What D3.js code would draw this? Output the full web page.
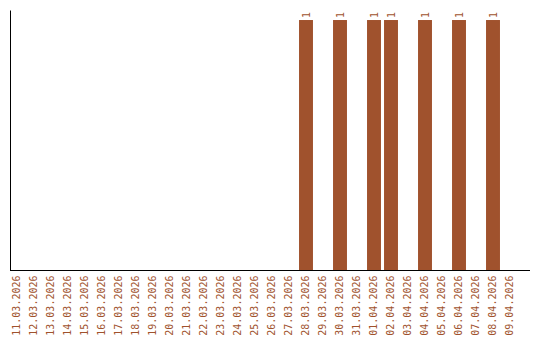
<!DOCTYPE html>
<html>
  <head>
    <script src="https://d3js.org/d3.v7.min.js"></script>
    <style>
      body { margin: 0; background: #fff; }
      .tick text, .value-label { font-family: "DejaVu Sans Mono", monospace; font-size: 10px; fill: #a0522d; }
    </style>
  </head>
  <body>
    <svg id="chart" width="540" height="340"></svg>
    <script>
      // Dates shown on the x axis
      var dates = ["11.03.2026", "12.03.2026", "13.03.2026", "14.03.2026", "15.03.2026",
        "16.03.2026", "17.03.2026", "18.03.2026", "19.03.2026", "20.03.2026",
        "21.03.2026", "22.03.2026", "23.03.2026", "24.03.2026", "25.03.2026",
        "26.03.2026", "27.03.2026", "28.03.2026", "29.03.2026", "30.03.2026",
        "31.03.2026", "01.04.2026", "02.04.2026", "03.04.2026", "04.04.2026",
        "05.04.2026", "06.04.2026", "07.04.2026", "08.04.2026", "09.04.2026"];
      // Count per date
      var counts = [0, 0, 0, 0, 0, 0, 0, 0, 0, 0,
        0, 0, 0, 0, 0, 0, 0, 1, 0, 1,
        0, 1, 1, 0, 1, 0, 1, 0, 1, 0];

      var data = dates.map(function(d, i) { return { date: d, count: counts[i] }; });

      var svg = d3.select("#chart");
      // plot edges (named so they don't clash with window.top)
      var plotLeft = 10, plotRight = 530, plotTop = 10, plotBottom = 270.5;

      var x = d3.scaleBand()
        .domain(dates)
        .range([8.5, 518.5])
        .paddingInner(0.18)
        .paddingOuter(0.09);

      var y = d3.scaleLinear()
        .domain([0, 1.04])
        .range([plotBottom, plotTop]);

      // Bars
      svg.selectAll("rect.bar")
        .data(data.filter(function(d) { return d.count > 0; }))
        .enter()
        .append("rect")
        .attr("class", "bar")
        .attr("x", function(d) { return x(d.date); })
        .attr("y", function(d) { return y(d.count); })
        .attr("width", x.bandwidth())
        .attr("height", function(d) { return y(0) - y(d.count); })
        .attr("fill", "#a0522d");

      // Value labels, rotated above each bar
      svg.selectAll("text.value-label")
        .data(data.filter(function(d) { return d.count > 0; }))
        .enter()
        .append("text")
        .attr("class", "value-label")
        .attr("transform", function(d) {
          return "translate(" + (x(d.date) + x.bandwidth() / 2 + 3.5) + "," + (y(d.count) - 2) + ") rotate(-90)";
        })
        .text(function(d) { return d.count; });

      // X axis labels
      var xAxis = svg.append("g")
        .attr("transform", "translate(0," + plotBottom + ")")
        .call(d3.axisBottom(x).tickSize(0).tickPadding(0));
      xAxis.select(".domain").remove();
      xAxis.selectAll("text")
        .attr("transform", "rotate(-90)")
        .attr("text-anchor", "end")
        .attr("x", -5)
        .attr("y", 0)
        .attr("dy", "0.32em");

      // Y axis line only, no ticks
      var yAxis = svg.append("g")
        .attr("transform", "translate(" + plotLeft + ",0)")
        .call(d3.axisLeft(y).ticks(0).tickSizeOuter(0));
      yAxis.select(".domain").attr("stroke", "#000");

      // Baseline
      svg.append("line")
        .attr("x1", plotLeft)
        .attr("x2", plotRight)
        .attr("y1", plotBottom)
        .attr("y2", plotBottom)
        .attr("stroke", "#000");
    </script>
  </body>
</html>
